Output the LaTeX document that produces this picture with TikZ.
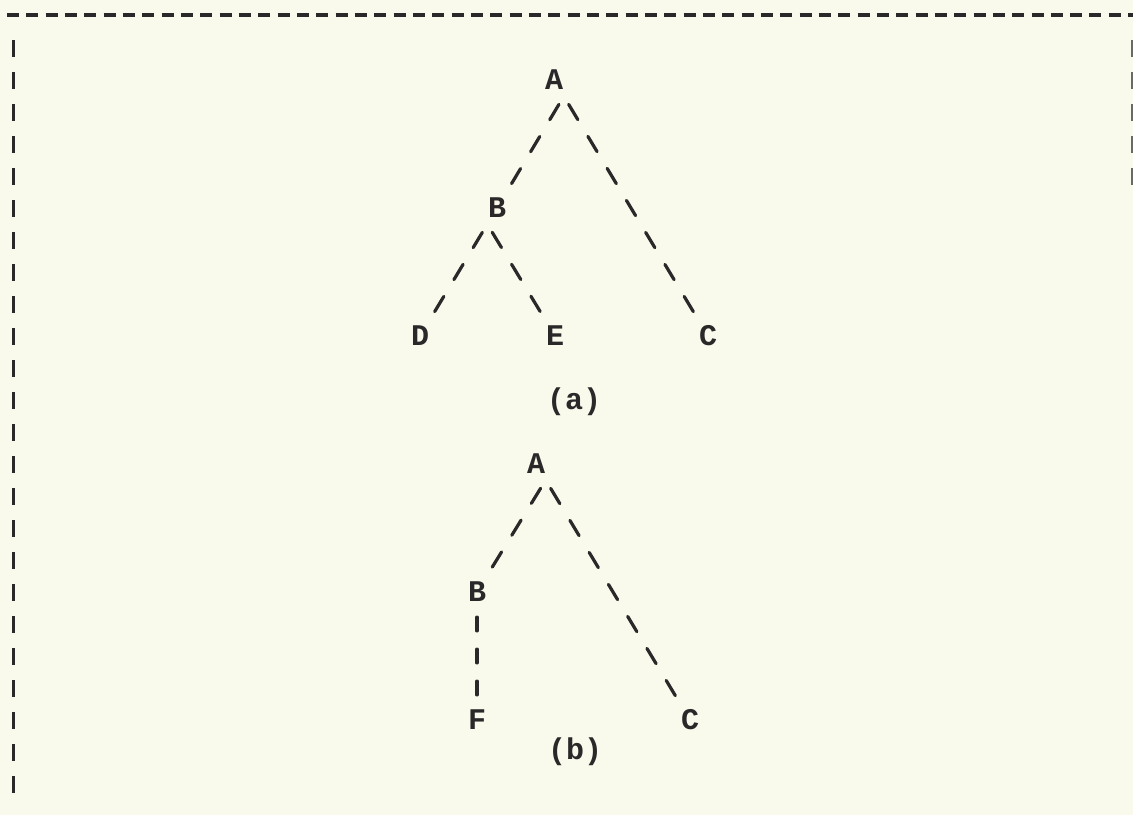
\documentclass[tikz,border=0pt]{standalone}
\usepackage{fontspec}
\setmonofont{Liberation Mono}
\definecolor{paper}{RGB}{249,249,236}
\definecolor{ink}{RGB}{42,40,40}
\begin{document}
\begin{tikzpicture}[x=1pt,y=-1pt,
  lbl/.style={font=\ttfamily\bfseries\fontsize{30}{30}\selectfont, text=ink, inner sep=0pt},
  diag/.style={draw=ink, line width=3.2pt, line cap=round, dash pattern=on 17.8pt off 19.55pt, shorten <=28.45pt, shorten >=28.45pt},
  vert/.style={draw=ink, line width=3.2pt, line cap=round, dash pattern=on 13.8pt off 18.2pt, shorten <=25.1pt, shorten >=25.1pt},
  frameh/.style={draw=ink, line width=4pt, dash pattern=on 12pt off 7.33pt},
  framev/.style={draw=ink, line width=3pt, dash pattern=on 17pt off 15pt},
]
\fill[paper] (0,0) rectangle (1133,815);
\useasboundingbox (0,0) rectangle (1133,815);
% frame
\coordinate (tl) at (7,15);
\coordinate (tr) at (1140,15);
\coordinate (lt) at (13.5,40);
\coordinate (lbot) at (13.5,794);
\coordinate (rt) at (1132,40);
\coordinate (rbot) at (1132,186);
\draw[frameh] (tl) -- (tr);
\draw[framev] (lt) -- (lbot);
\draw[framev, draw=ink!70] (rt) -- (rbot);
% tree (a)
\node[lbl] (A1) at (554,80) {A};
\node[lbl] (B1) at (497,208) {B};
\node[lbl] (D1) at (420,336) {D};
\node[lbl] (E1) at (555,336) {E};
\node[lbl] (C1) at (708,336) {C};
\node[lbl] (la) at (574,402) {(a)};
\draw[diag] ([xshift=19.5pt]A1.center) -- (B1.center);
\draw[diag] (A1.center) -- (C1.center);
\draw[diag] (B1.center) -- (D1.center);
\draw[diag] ([xshift=-19.5pt]B1.center) -- (E1.center);
% tree (b)
\node[lbl] (A2) at (536,464) {A};
\node[lbl] (B2) at (477,592) {B};
\node[lbl] (F2) at (477,720) {F};
\node[lbl] (C2) at (690,720) {C};
\node[lbl] (lb) at (575,752) {(b)};
\draw[diag] ([xshift=19.5pt]A2.center) -- (B2.center);
\draw[diag] (A2.center) -- (C2.center);
\draw[vert] (B2.center) -- (F2.center);
\end{tikzpicture}
\end{document}
